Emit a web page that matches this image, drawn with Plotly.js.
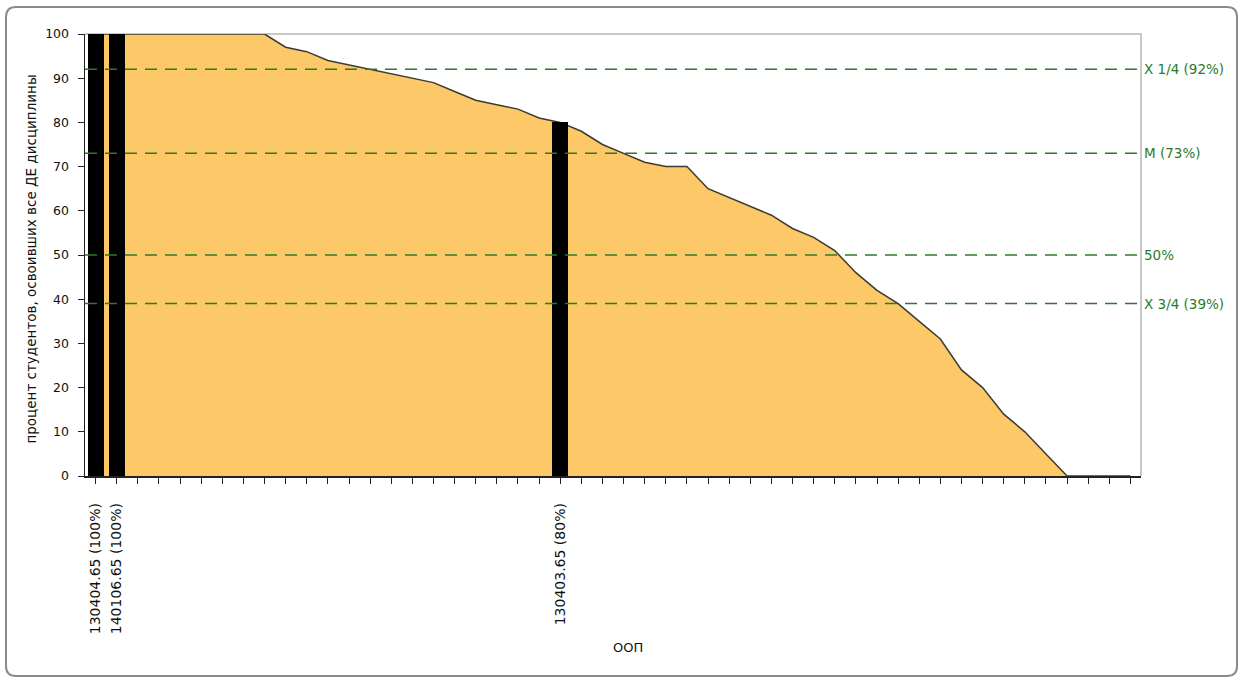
<!DOCTYPE html>
<html>
<head>
<meta charset="utf-8">
<script src="https://cdn.plot.ly/plotly-3.0.1.min.js"></script>
<style>
  html, body { margin: 0; padding: 0; background: #ffffff; }
  #chart { width: 1240px; height: 682px; }
</style>
</head>
<body>
<div id="chart"></div>
<script>
// ---- data ----
const categoryLabels = [
  "130404.65 (100%)", "140106.65 (100%)", "", "", "", "", "", "", "", "",
  "", "", "", "", "", "", "", "", "", "",
  "", "", "130403.65 (80%)", "", "", "", "", "", "", "",
  "", "", "", "", "", "", "", "", "", "",
  "", "", "", "", "", "", "", "", "", ""
];
const percentMastered = [
  100, 100, 100, 100, 100, 100, 100, 100, 100, 97,
  96, 94, 93, 92, 91, 90, 89, 87, 85, 84,
  83, 81, 80, 78, 75, 73, 71, 70, 70, 65,
  63, 61, 59, 56, 54, 51, 46, 42, 39, 35,
  31, 24, 20, 14, 10, 5, 0, 0, 0, 0
];
const highlightIndex = [0, 1, 22];
const highlightValues = [100, 100, 80];
const refValues = [92, 73, 50, 39];
const refLabels = ["X 1/4 (92%)", "M (73%)", "50%", "X 3/4 (39%)"];
const yTitle = "процент студентов, освоивших все ДЕ дисциплины";
const xTitle = "ООП";

const idx = percentMastered.map((_, i) => i);

const FONT = "DejaVu Sans";
const GREEN = "#2b7a2b";

const traces = [
  {
    type: "scatter",
    mode: "lines",
    x: idx,
    y: percentMastered,
    fill: "tozeroy",
    fillcolor: "#FDC867",
    line: { color: "#3d3a33", width: 1.5 },
    hoverinfo: "skip",
    showlegend: false
  },
  {
    type: "bar",
    x: highlightIndex,
    y: highlightValues,
    xaxis: "x2",
    yaxis: "y",
    width: 0.76,
    marker: { color: "#000000", line: { width: 0 } },
    showlegend: false
  }
];

const shapes = refValues.map(v => ({
  type: "line", xref: "paper", yref: "y",
  x0: 0, x1: 1, y0: v, y1: v,
  line: { color: GREEN, width: 1.5, dash: "12px,8px" },
  layer: "above"
}));

// plot-area light border (top/right)
shapes.push({
  type: "path", xref: "paper", yref: "paper",
  path: "M 0,1 L 1,1 L 1,0",
  line: { color: "#c8c8c8", width: 2 }, layer: "below"
});

// outer rounded frame
(function () {
  const L = -0.0748, R = 1.0909, T = 1.0611, B = -0.4525;
  const rx = 10 / 1056, ry = 10 / 442;
  const p = `M ${L + rx},${T} L ${R - rx},${T} Q ${R},${T} ${R},${T - ry} ` +
            `L ${R},${B + ry} Q ${R},${B} ${R - rx},${B} L ${L + rx},${B} ` +
            `Q ${L},${B} ${L},${B + ry} L ${L},${T - ry} Q ${L},${T} ${L + rx},${T} Z`;
  shapes.push({
    type: "path", xref: "paper", yref: "paper", path: p,
    line: { color: "#8a8a8a", width: 2 }, layer: "below"
  });
})();

const annotations = refValues.map((v, i) => ({
  xref: "paper", yref: "y", x: 1, y: v,
  xanchor: "left", yanchor: "middle", xshift: 1,
  text: refLabels[i], showarrow: false,
  font: { family: FONT, size: 13.5, color: GREEN }
}));

annotations.push({
  xref: "paper", yref: "paper", x: 0.514, y: -0.387,
  xanchor: "center", yanchor: "middle",
  text: xTitle, showarrow: false,
  font: { family: FONT, size: 13, color: "#111" }
});
annotations.push({
  xref: "paper", yref: "paper", x: -0.051, y: 0.49,
  xanchor: "center", yanchor: "middle", textangle: -90,
  text: yTitle, showarrow: false,
  font: { family: FONT, size: 13.5, color: "#111" }
});

const layout = {
  width: 1240, height: 682,
  margin: { l: 85, r: 99, t: 34, b: 206, pad: 0 },
  paper_bgcolor: "#ffffff",
  plot_bgcolor: "#ffffff",
  showlegend: false,
  bargap: 0,
  xaxis: {
    type: "linear",
    range: [-0.5, 49.5],
    tickmode: "array",
    tickvals: idx,
    ticktext: categoryLabels,
    tickangle: -90,
    ticks: "outside", ticklen: 6, tickwidth: 1, tickcolor: "#222",
    ticklabelstandoff: 14,
    tickfont: { family: FONT, size: 14, color: "#111" },
    showgrid: false, zeroline: false,
    showline: true, linecolor: "#222", linewidth: 1.5,
    fixedrange: true
  },
  xaxis2: {
    type: "linear",
    range: [-0.5, 49.5],
    overlaying: "x",
    visible: false,
    showgrid: false, zeroline: false,
    fixedrange: true
  },
  yaxis: {
    range: [0, 100],
    tickvals: [0, 10, 20, 30, 40, 50, 60, 70, 80, 90, 100],
    ticks: "outside", ticklen: 6, tickwidth: 1, tickcolor: "#222",
    ticklabelstandoff: 6,
    tickfont: { family: FONT, size: 12.5, color: "#111" },
    showgrid: false, zeroline: false,
    showline: true, linecolor: "#222", linewidth: 1.5,
    fixedrange: true
  },
  shapes: shapes,
  annotations: annotations
};

Plotly.newPlot("chart", traces, layout, { displayModeBar: false, staticPlot: true });
</script>
</body>
</html>
